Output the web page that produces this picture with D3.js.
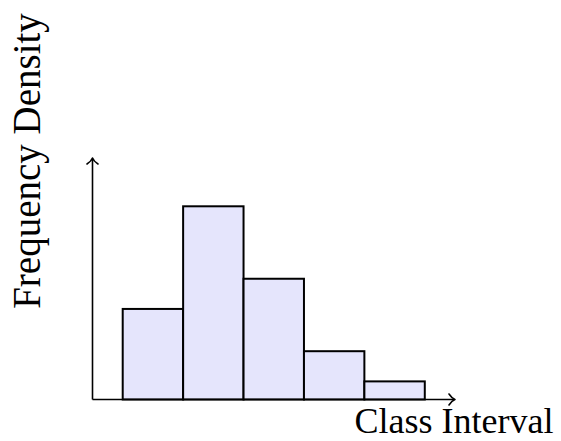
<!DOCTYPE html>
<html><head><meta charset="utf-8">
<script src="https://cdn.jsdelivr.net/npm/d3@7"></script>
<style>body{margin:0;background:#fff}svg{display:block}</style>
</head><body>
<svg id="c" width="561" height="441"></svg>
<script>
const binEdges = [0, 1, 2, 3, 4, 5];
const densities = [1.5, 3.2, 2.0, 0.8, 0.3];
const xLabel = "Class Interval";
const yLabel = "Frequency Density";
const xExtent = [-0.5, 5.5];
const yExtent = [0, 4];

const svg = d3.select("#c");
const x = d3.scaleLinear().domain(xExtent).range([92.5, 455]);
const y = d3.scaleLinear().domain(yExtent).range([399.5, 158]);

const bins = densities.map((v, i) => ({x0: binEdges[i], x1: binEdges[i + 1], v}));

svg.append("g").selectAll("rect").data(bins).join("rect")
  .attr("x", d => x(d.x0)).attr("width", d => x(d.x1) - x(d.x0))
  .attr("y", d => y(d.v)).attr("height", d => y(0) - y(d.v))
  .attr("fill", "#e5e5fc").attr("stroke", "#000").attr("stroke-width", 2);

const ax = svg.append("g").attr("stroke", "#000").attr("fill", "none")
  .attr("stroke-width", 1.6).attr("stroke-linecap", "butt");
const x0 = x(xExtent[0]), y0 = y(0), xe = x(xExtent[1]), ye = y(yExtent[1]);
ax.append("path").attr("d", `M${x0},${y0}H${xe - 1}`);
ax.append("path").attr("d", `M${x0},${y0}V${ye + 1}`);
ax.append("path").attr("stroke-linejoin", "round").attr("stroke-linecap", "round")
  .attr("d", `M${xe - 6},${y0 - 5.5} Q${xe - 3},${y0 - 1} ${xe},${y0} Q${xe - 3},${y0 + 1} ${xe - 6},${y0 + 5.5}`);
ax.append("path").attr("stroke-linejoin", "round").attr("stroke-linecap", "round")
  .attr("d", `M${x0 - 5.5},${ye + 6} Q${x0 - 1},${ye + 3} ${x0},${ye} Q${x0 + 1},${ye + 3} ${x0 + 5.5},${ye + 6}`);

svg.append("text").attr("x", xe - 1).attr("y", 433)
  .attr("text-anchor", "middle")
  .attr("font-family", "'Liberation Serif', 'Times New Roman', serif")
  .attr("font-size", 36).attr("fill", "#000").text(xLabel);

svg.append("text").attr("transform", `translate(40,${(ye + 3)}) rotate(-90)`)
  .attr("text-anchor", "middle")
  .attr("font-family", "'Liberation Serif', 'Times New Roman', serif")
  .attr("font-size", 39).attr("fill", "#000").text(yLabel);
</script>
</body></html>
